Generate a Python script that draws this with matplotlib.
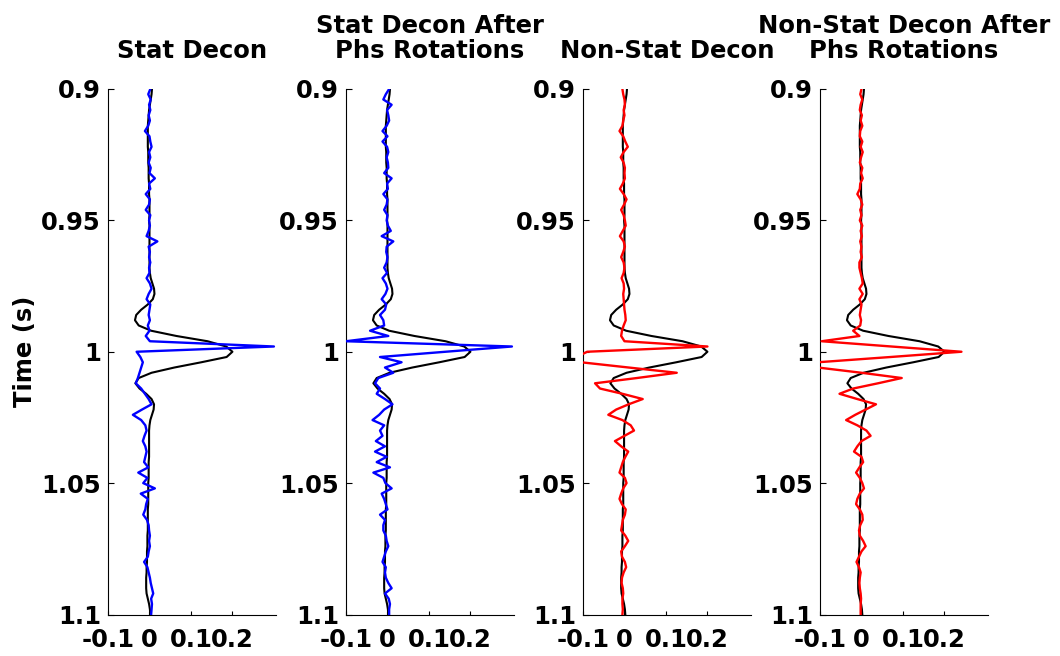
import numpy as np
import matplotlib
matplotlib.use("Agg")
import matplotlib.pyplot as plt

plt.rcParams['font.family'] = ['DejaVu Sans']

# Time axis (s), 2 ms sampling from 0.9 to 1.1
t_start, t_step, n_samp = 0.9, 0.002, 101
time = t_start + t_step * np.arange(n_samp)

# Reference (black) trace, shared by all panels
ref_trace = [
    0.006, 0.005, 0.003, 0.001, -0.001, -0.002, -0.003, -0.004, -0.004, -0.004,
    -0.004, -0.004, -0.003, -0.003, -0.003, -0.002, -0.002, -0.002, -0.001, -0.001,
    -0.001, 0.000, 0.000, 0.000, 0.000, -0.001, 0.000, 0.000, 0.000, 0.000,
    0.000, 0.000, 0.000, 0.000, 0.000, 0.001, 0.003, 0.007, 0.011, 0.012,
    0.008, -0.004, -0.020, -0.032, -0.035, -0.026, 0.004, 0.065, 0.140, 0.185,
    0.200, 0.186, 0.125, 0.060, 0.005, -0.026, -0.034, -0.024, -0.008, 0.005,
    0.011, 0.010, 0.006, 0.002, 0.000, -0.001, -0.001, -0.001, -0.001, -0.001,
    -0.001, -0.002, -0.002, -0.002, -0.002, -0.003, -0.003, -0.003, -0.003, -0.003,
    -0.004, -0.004, -0.004, -0.004, -0.004, -0.005, -0.005, -0.005, -0.006, -0.006,
    -0.006, -0.007, -0.007, -0.008, -0.008, -0.008, -0.007, -0.004, -0.001, 0.001,
    0.002,
]

stat_decon = [
    0.002, -0.003, 0.003, -0.001, 0.002, -0.002, 0.001, -0.003, -0.011, 0.000,
    0.002, 0.005, -0.001, 0.002, -0.002, 0.003, 0.000, 0.013, -0.001, 0.002,
    -0.009, 0.001, -0.001, -0.009, 0.002, -0.001, 0.001, -0.002, -0.007, 0.019,
    -0.002, 0.001, -0.001, 0.002, -0.001, 0.000, -0.007, 0.001, 0.005, -0.002,
    -0.007, 0.002, 0.000, -0.002, 0.001, -0.004, 0.000, -0.009, 0.001, 0.300,
    -0.031, -0.022, -0.016, -0.020, -0.024, -0.028, -0.033, -0.020, -0.011, -0.002,
    0.005, -0.018, -0.040, -0.020, -0.010, -0.007, -0.012, -0.016, -0.010, -0.007,
    -0.010, -0.013, -0.003, -0.027, -0.005, -0.015, 0.013, -0.021, -0.004, -0.008,
    -0.010, -0.015, -0.006, -0.002, -0.001, 0.001, -0.001, 0.001, -0.002, -0.004,
    -0.013, -0.005, -0.002, 0.001, 0.003, 0.006, 0.009, 0.004, 0.006, 0.005,
    0.004,
]

stat_decon_rot = [
    0.004, -0.004, -0.010, 0.010, -0.001, 0.002, 0.004, -0.002, -0.012, 0.000,
    -0.012, -0.001, 0.002, -0.002, 0.001, 0.002, -0.008, 0.010, -0.001, 0.001,
    -0.010, 0.000, -0.002, -0.008, 0.000, -0.002, 0.001, 0.008, -0.014, 0.014,
    -0.002, -0.003, 0.000, -0.002, -0.008, -0.001, -0.012, -0.004, 0.000, -0.005,
    -0.014, -0.003, -0.006, -0.018, -0.010, -0.008, -0.042, 0.002, -0.100, 0.300,
    0.140, -0.018, 0.034, -0.006, 0.014, -0.022, -0.030, -0.018, -0.026, -0.006,
    0.012, -0.008, -0.020, -0.036, -0.008, -0.018, -0.012, -0.028, -0.006, -0.030,
    -0.002, -0.026, 0.006, -0.034, -0.010, -0.005, 0.010, -0.014, -0.008, -0.004,
    0.000, -0.018, -0.006, -0.010, -0.010, -0.004, -0.002, 0.002, -0.004, -0.008,
    -0.012, -0.004, -0.006, -0.004, 0.002, 0.010, -0.006, 0.003, 0.006, 0.004,
    0.004,
]

nonstat_decon = [
    -0.005, -0.003, 0.000, 0.001, -0.002, 0.000, -0.003, -0.005, -0.012, -0.003,
    0.002, 0.008, -0.002, -0.009, -0.002, 0.001, 0.000, 0.001, -0.004, -0.011,
    -0.002, 0.005, -0.001, -0.008, -0.002, 0.001, 0.003, -0.004, -0.011, -0.002,
    0.001, -0.003, -0.008, -0.002, 0.000, -0.002, -0.007, -0.002, -0.001, -0.003,
    -0.002, -0.001, 0.000, 0.002, 0.003, -0.002, -0.006, -0.008, 0.000, 0.200,
    -0.090, -0.115, -0.105, 0.010, 0.126, 0.030, -0.071, -0.059, -0.005, 0.044,
    0.010, -0.020, -0.039, -0.005, 0.015, 0.023, 0.000, -0.023, -0.008, 0.009,
    0.002, -0.004, -0.008, -0.012, 0.001, 0.005, -0.003, -0.008, -0.012, -0.006,
    0.003, 0.001, -0.004, -0.006, -0.008, 0.002, 0.009, 0.001, -0.008, -0.006,
    0.001, 0.004, -0.002, -0.006, -0.007, -0.004, -0.003, -0.005, -0.005, -0.004,
    -0.005,
]

nonstat_decon_rot = [
    0.000, -0.003, 0.002, -0.002, -0.004, 0.001, -0.002, 0.002, -0.003, -0.004,
    0.002, -0.002, 0.003, -0.001, -0.004, 0.002, -0.001, 0.003, -0.003, -0.004,
    -0.010, -0.002, 0.002, -0.003, 0.000, -0.004, 0.002, -0.002, 0.001, -0.003,
    0.000, -0.002, 0.001, -0.005, -0.005, -0.002, 0.001, 0.003, -0.005, 0.003,
    -0.005, 0.000, -0.002, -0.004, -0.001, -0.003, -0.020, -0.005, -0.096, 0.072,
    0.241, 0.070, -0.105, -0.105, 0.000, 0.097, 0.040, -0.020, -0.053, -0.010,
    0.035, 0.010, -0.015, -0.037, -0.010, 0.012, 0.022, 0.000, -0.010, -0.018,
    0.000, 0.004, -0.005, -0.013, -0.004, 0.002, 0.006, -0.004, -0.010, -0.013,
    -0.004, 0.002, 0.003, -0.003, -0.006, -0.004, 0.004, 0.010, 0.000, -0.006,
    -0.012, -0.006, -0.002, -0.004, -0.005, -0.004, -0.002, -0.001, -0.002, -0.002,
    -0.002,
]

titles = ["Stat Decon", "Stat Decon After\nPhs Rotations",
          "Non-Stat Decon", "Non-Stat Decon After\nPhs Rotations"]
traces = [stat_decon, stat_decon_rot, nonstat_decon, nonstat_decon_rot]
colors = ["#0000FF", "#0000FF", "#FF0000", "#FF0000"]

y_ticks = [0.9, 0.95, 1.0, 1.05, 1.1]
y_ticklabels = ["0.9", "0.95", "1", "1.05", "1.1"]
x_ticks = [-0.1, 0.0, 0.1, 0.2]
x_ticklabels = ["-0.1", "0", "0.1", "0.2"]

W, H = 1060, 656
fig = plt.figure(figsize=(W / 100, H / 100), dpi=100)
lefts = [108, 346, 583, 820]
ax_w, top, bottom = 168, 89, 614.5
fs = 17.5

for k in range(4):
    ax = fig.add_axes([lefts[k] / W, 1 - bottom / H, ax_w / W, (bottom - top) / H])
    ax.plot(ref_trace, time, color="black", lw=1.5, zorder=2)
    ax.plot(traces[k], time, color=colors[k], lw=1.7, zorder=3)
    ax.set_ylim(1.1, 0.9)
    ax.set_xlim(-0.1, 0.305)
    ax.set_yticks(y_ticks)
    ax.set_yticklabels(y_ticklabels, fontsize=fs, fontweight="bold")
    ax.set_xticks(x_ticks)
    ax.set_xticklabels(x_ticklabels, fontsize=fs, fontweight="bold")
    ax.tick_params(axis="y", direction="in", length=4, width=0.8, pad=5)
    ax.tick_params(axis="x", direction="in", length=3, width=0.8, pad=10)
    for s in ["top", "right"]:
        ax.spines[s].set_visible(False)
    for s in ["left", "bottom"]:
        ax.spines[s].set_linewidth(0.8)
    ax.set_title(titles[k], fontsize=fs, fontweight="bold", pad=22, linespacing=1.1)
    if k == 0:
        ax.set_ylabel("Time (s)", fontsize=fs, fontweight="bold")
        ax.yaxis.set_label_coords(-0.42, 0.5)

fig.savefig("out.png", dpi=100)
